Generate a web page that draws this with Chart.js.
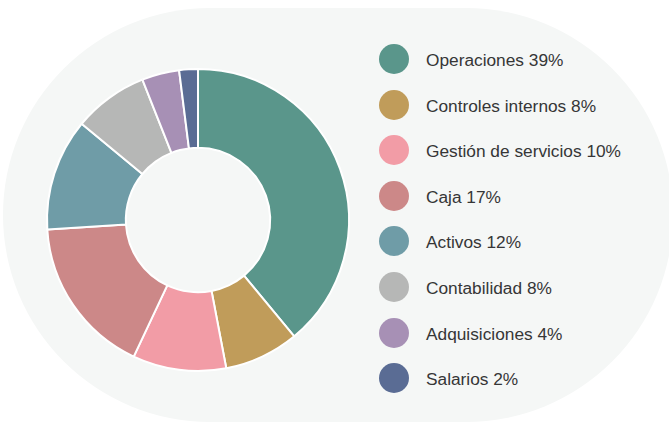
<!DOCTYPE html>
<html>
<head>
<meta charset="utf-8">
<script src="https://cdn.jsdelivr.net/npm/chart.js@4/dist/chart.umd.min.js"></script>
<style>
  html, body { margin: 0; padding: 0; background: #fff; }
  body { width: 669px; height: 425px; position: relative; overflow: hidden; font-family: "Liberation Sans", Arial, Helvetica, sans-serif; }
  .panel { position: absolute; left: 3px; top: 8px; width: 670px; height: 414px; border-radius: 207px; background: #f5f7f6; }
  .chart-box { position: absolute; left: 38px; top: 60px; width: 320px; height: 320px; }
  .legend { position: absolute; left: 379px; top: 44px; }
  .legend-item { display: flex; align-items: center; height: 30px; margin-bottom: 15.6px; }
  .legend-color { width: 30px; height: 30px; border-radius: 50%; flex: none; }
  .legend-text { margin-left: 17px; padding-top: 3px; font-size: 17.3px; color: #363636; white-space: nowrap; }
</style>
</head>
<body>
<div class="panel"></div>
<div class="chart-box"><canvas id="donut" width="320" height="320"></canvas></div>
<div class="legend" id="legend"></div>
<script>
// data
const categories = ['Operaciones', 'Controles internos', 'Gestión de servicios', 'Caja', 'Activos', 'Contabilidad', 'Adquisiciones', 'Salarios'];
const shares = [39, 8, 10, 17, 12, 8, 4, 2];
const colors = ['#5a968b', '#c09c5a', '#f29ca6', '#cc8888', '#6f9ca7', '#b6b7b6', '#a790b5', '#5a6c94'];

// legend (html)
const legendEl = document.getElementById('legend');
categories.forEach((name, i) => {
  const item = document.createElement('div');
  item.className = 'legend-item';
  item.innerHTML = `<span class="legend-color" style="background:${colors[i]}"></span><span class="legend-text">${name} ${shares[i]}%</span>`;
  legendEl.appendChild(item);
});

// donut
new Chart(document.getElementById('donut').getContext('2d'), {
  type: 'doughnut',
  data: {
    labels: categories,
    datasets: [{
      data: shares,
      backgroundColor: colors,
      borderColor: '#ffffff',
      borderWidth: 2
    }]
  },
  options: {
    responsive: false,
    animation: false,
    radius: 151,
    cutout: 76,
    plugins: { legend: { display: false }, tooltip: { enabled: false } }
  }
});
</script>
</body>
</html>
